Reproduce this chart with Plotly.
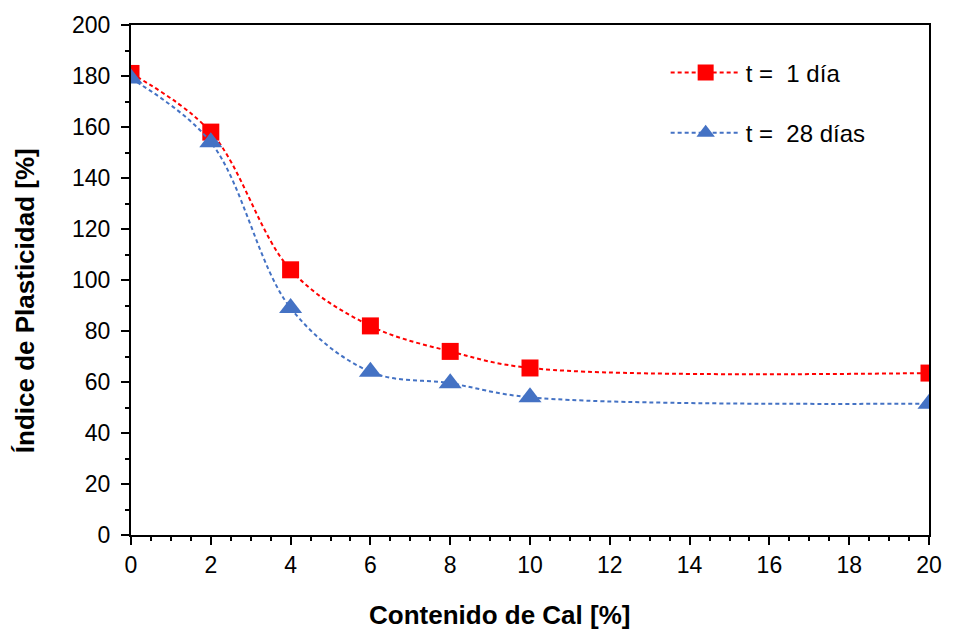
import plotly.graph_objects as go

cal = [0, 2, 4, 6, 8, 10, 20]
ip_1dia = [181, 158, 104, 82, 72, 65.5, 63.5]
ip_28dias = [179, 154, 89, 64, 59.5, 54, 51.5]

FONT = "Liberation Sans, Arial, sans-serif"

fig = go.Figure()
fig.add_trace(go.Scatter(
    x=cal, y=ip_1dia, name="t =  1 día", mode="lines+markers",
    line=dict(color="#FF0000", width=2, dash="4px,3px", shape="spline", smoothing=1),
    marker=dict(symbol="square", size=17, color="#FF0000"),
    legendgroup="a",
))
fig.add_trace(go.Scatter(
    x=cal, y=ip_28dias, name="t =  28 días", mode="lines+markers",
    line=dict(color="#4472C4", width=2, dash="4px,3px", shape="spline", smoothing=1),
    marker=dict(symbol="triangle-up", size=20, color="#4472C4"),
    legendgroup="b",
))

axis_common = dict(
    showline=True, linecolor="black", linewidth=2, mirror=True,
    ticks="outside", tickcolor="black", tickwidth=2, ticklen=8,
    showgrid=False, zeroline=False,
    tickfont=dict(family=FONT, size=23, color="black"),
)

W, H = 954, 632
L, R, T, B = 131, 19, 22, 97
pw, ph = W - L - R, H - T - B

fig.update_layout(
    width=W, height=H,
    margin=dict(l=L, r=R, t=T, b=B),
    plot_bgcolor="white", paper_bgcolor="white",
    font=dict(family=FONT, color="black"),
    xaxis=dict(
        **axis_common, range=[0, 20], dtick=2, tick0=0,
        minor=dict(ticks="outside", dtick=0.5, ticklen=4, tickwidth=2, tickcolor="black"),
    ),
    yaxis=dict(
        **axis_common, range=[0, 200], dtick=20, tick0=0, ticklabelstandoff=6,
        minor=dict(ticks="outside", dtick=10, ticklen=4, tickwidth=2, tickcolor="black"),
    ),
    legend=dict(
        x=0.67, y=0.95, xanchor="left", yanchor="top",
        font=dict(family=FONT, size=24, color="black"),
        bgcolor="rgba(0,0,0,0)", tracegroupgap=26, itemwidth=70,
        traceorder="grouped",
    ),
    annotations=[
        dict(text="<b>Contenido de Cal [%]</b>", xref="paper", yref="paper",
             x=(502 - L) / pw, y=(H - B - 615) / ph, xanchor="center", yanchor="middle",
             showarrow=False, font=dict(family=FONT, size=26, color="black")),
        dict(text="<b>Índice de Plasticidad [%]</b>", xref="paper", yref="paper",
             x=(25 - L) / pw, y=(H - B - 299) / ph, xanchor="center", yanchor="middle",
             textangle=-90, showarrow=False, font=dict(family=FONT, size=26, color="black")),
    ],
)

fig.write_html("out.html")
